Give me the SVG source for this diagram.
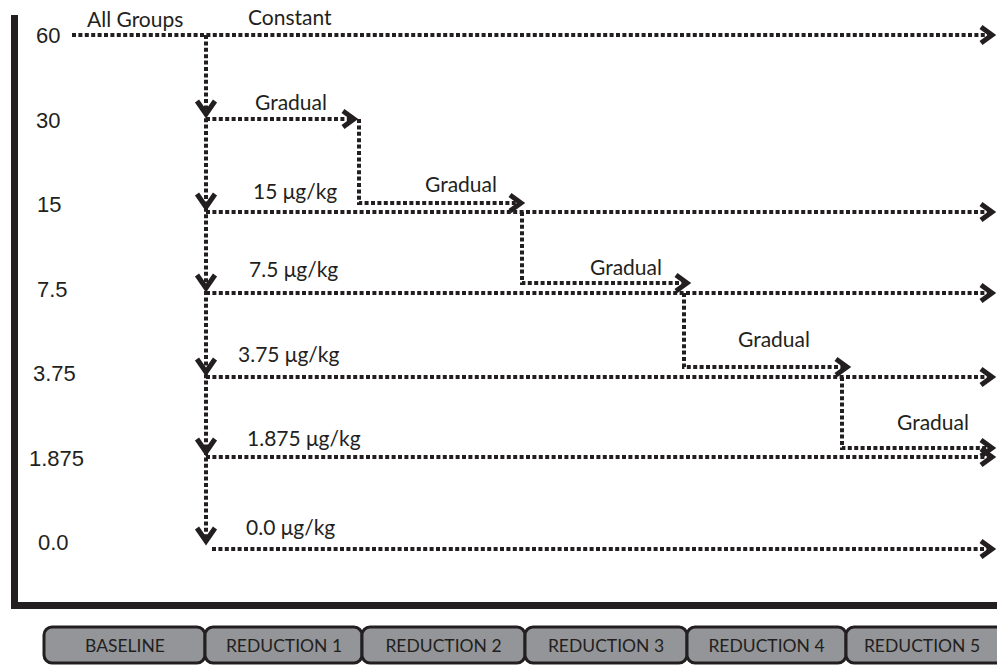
<svg xmlns="http://www.w3.org/2000/svg" width="997" height="665" viewBox="0 0 997 665">
<style>
.dot{fill:none;stroke:#231f20;stroke-width:4;stroke-dasharray:4 2.4}
.ah{fill:none;stroke:#231f20;stroke-width:5;stroke-linejoin:miter;stroke-linecap:butt}
.ax{fill:none;stroke:#231f20;stroke-width:7}
.val{font-family:"Liberation Sans",Arial,sans-serif;font-size:22px;fill:#231f20}
.lbl{font-family:Lato,"Open Sans",sans-serif;font-size:21px;fill:#231f20}
.btn rect{fill:#939598;stroke:#231f20;stroke-width:3}
.btn text{font-family:Lato,"Open Sans",sans-serif;font-size:17.5px;fill:#231f20;text-anchor:middle}
</style>
<rect width="997" height="665" fill="#fff"/>
<g id="axis">
<line class="ax" x1="14.5" y1="15" x2="14.5" y2="609"/>
<line class="ax" x1="11" y1="605.5" x2="997" y2="605.5"/>
</g>
<g id="levels">
<text class="val" x="36" y="43">60</text>
<text class="val" x="36" y="128">30</text>
<text class="val" x="37" y="212">15</text>
<text class="val" x="37" y="297">7.5</text>
<text class="val" x="33" y="381">3.75</text>
<text class="val" x="29" y="466">1.875</text>
<text class="val" x="38" y="550">0.0</text>
</g>
<g id="labels">
<text class="lbl" x="87" y="27">All Groups</text>
<text class="lbl" x="248" y="25">Constant</text>
<text class="lbl" x="255" y="110">Gradual</text>
<text class="lbl" x="253" y="199">15 μg/kg</text>
<text class="lbl" x="425" y="192">Gradual</text>
<text class="lbl" x="249" y="277">7.5 μg/kg</text>
<text class="lbl" x="590" y="275">Gradual</text>
<text class="lbl" x="238" y="362">3.75 μg/kg</text>
<text class="lbl" x="738" y="347">Gradual</text>
<text class="lbl" x="247" y="446">1.875 μg/kg</text>
<text class="lbl" x="897" y="430">Gradual</text>
<text class="lbl" x="246" y="535">0.0 μg/kg</text>
</g>
<g id="connectors">
<path class="dot" d="M72 35H990"/>
<path class="dot" d="M206 35V541"/>
<path class="dot" d="M206 119H354"/>
<path class="dot" d="M359 119V203H521"/>
<path class="dot" d="M206 212H990"/>
<path class="dot" d="M522 212V283H687"/>
<path class="dot" d="M206 293H990"/>
<path class="dot" d="M684 293V367H847"/>
<path class="dot" d="M206 377H990"/>
<path class="dot" d="M842 377V448H990"/>
<path class="dot" d="M206 457H990"/>
<path class="dot" d="M212 549H990"/>
<path class="ah" d="M981 27L992 35L981 43"/>
<path class="ah" d="M343 111L354 119L343 127"/>
<path class="ah" d="M510 195L521 203L510 211"/>
<path class="ah" d="M981 204L992 212L981 220"/>
<path class="ah" d="M676 275L687 283L676 291"/>
<path class="ah" d="M981 285L992 293L981 301"/>
<path class="ah" d="M836 359L847 367L836 375"/>
<path class="ah" d="M981 369L992 377L981 385"/>
<path class="ah" d="M981 440L992 448L981 456"/>
<path class="ah" d="M981 449L992 457L981 465"/>
<path class="ah" d="M981 541L992 549L981 557"/>
<path class="ah" d="M197 101L206 114L215 101"/>
<path class="ah" d="M197 194L206 207L215 194"/>
<path class="ah" d="M197 275L206 288L215 275"/>
<path class="ah" d="M197 359L206 372L215 359"/>
<path class="ah" d="M197 439L206 452L215 439"/>
<path class="ah" d="M197 528L206 541L215 528"/>
</g>
<g id="btn-baseline" class="btn"><rect x="44" y="627" width="161" height="36" rx="8"/><text x="125" y="652">BASELINE</text></g>
<g id="btn-r1" class="btn"><rect x="205" y="627" width="157" height="36" rx="8"/><text x="284" y="652">REDUCTION 1</text></g>
<g id="btn-r2" class="btn"><rect x="362" y="627" width="163" height="36" rx="8"/><text x="443.5" y="652">REDUCTION 2</text></g>
<g id="btn-r3" class="btn"><rect x="525" y="627" width="162" height="36" rx="8"/><text x="606" y="652">REDUCTION 3</text></g>
<g id="btn-r4" class="btn"><rect x="687" y="627" width="159" height="36" rx="8"/><text x="766.5" y="652">REDUCTION 4</text></g>
<g id="btn-r5" class="btn"><rect x="846" y="627" width="160" height="36" rx="8"/><text x="922" y="652">REDUCTION 5</text></g>
</svg>
